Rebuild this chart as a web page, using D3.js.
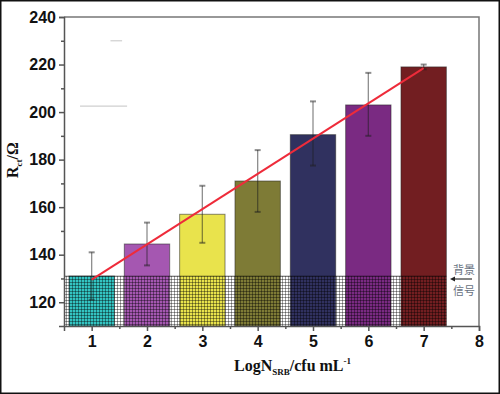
<!DOCTYPE html>
<html>
<head>
<meta charset="utf-8">
<script src="https://cdn.jsdelivr.net/npm/d3@7"></script>
<style>
  body { margin: 0; background: #fff; }
  svg { display: block; }
  .note { font-family: "Noto Sans CJK SC", "Noto Sans CJK JP", sans-serif; font-size: 11px; fill: #667080; }
</style>
</head>
<body>
<script>
// values
var levels = [1, 2, 3, 4, 5, 6, 7];
var rct = [131, 144.5, 157, 171, 190.5, 203, 219];
var errUp = [10, 9, 12, 13, 14, 13.5, 1];
var errDown = [10, 9, 12, 13, 13, 13, 1];
var barColors = ["#33c4c2", "#a557b1", "#e9e34c", "#7e7b36", "#30315f", "#7a2a82", "#721e21"];
var fitX = [1, 7];
var fitY = [129.5, 218.5];
var background = 131;
var xTicks = [1, 2, 3, 4, 5, 6, 7, 8];
var yTicks = [120, 140, 160, 180, 200, 220, 240];

var w = 500, h = 394;
var pLeft = 64, pRight = 479, pTop = 17, pBottom = 326;

var svg = d3.select("body").append("svg")
  .attr("width", w).attr("height", h);

svg.append("rect").attr("x", 0.75).attr("y", 0.75)
  .attr("width", w - 1.5).attr("height", h - 1.5)
  .attr("fill", "#fff").attr("stroke", "#111").attr("stroke-width", 1.5);

var x = d3.scaleLinear().domain([0.5, 8]).range([pLeft, pRight]);
var y = d3.scaleLinear().domain([110, 240]).range([pBottom, pTop]);
var bw = x(1.82) - x(1);

// grid pattern for the background signal zone
var defs = svg.append("defs");
var pat = defs.append("pattern").attr("id", "grid")
  .attr("patternUnits", "userSpaceOnUse").attr("width", 3).attr("height", 3);
pat.append("path").attr("d", "M0,0.5H3M0.5,0V3")
  .attr("stroke", "rgba(0,0,0,0.38)").attr("stroke-width", 1);

// faint stray marks from the original figure
svg.append("g").attr("stroke", "#cfcfcf").attr("stroke-width", 1.2)
  .selectAll("line").data([[1.34, 1.55, 230], [0.79, 1.64, 202.5]]).enter()
  .append("line")
  .attr("x1", function(d){ return x(d[0]); })
  .attr("x2", function(d){ return x(d[1]); })
  .attr("y1", function(d){ return y(d[2]); })
  .attr("y2", function(d){ return y(d[2]); });

// bars
svg.append("g").selectAll("rect").data(levels).enter()
  .append("rect")
  .attr("x", function(d){ return x(d) - bw / 2; })
  .attr("y", function(d, i){ return y(rct[i]); })
  .attr("width", bw)
  .attr("height", function(d, i){ return pBottom - y(rct[i]); })
  .attr("fill", function(d, i){ return barColors[i]; })
  .attr("stroke", "rgba(40,40,40,0.55)").attr("stroke-width", 1);

// hatched background band
svg.append("rect")
  .attr("x", pLeft).attr("y", y(background))
  .attr("width", x(7) + bw / 2 - pLeft)
  .attr("height", pBottom - y(background))
  .attr("fill", "url(#grid)");
svg.append("line")
  .attr("x1", pLeft).attr("x2", x(7) + bw / 2)
  .attr("y1", y(background)).attr("y2", y(background))
  .attr("stroke", "rgba(0,0,0,0.4)");

// error bars
var eb = svg.append("g").attr("stroke", "rgba(30,30,30,0.5)").attr("stroke-width", 1.3);
levels.forEach(function(d, i){
  var cx = x(d);
  eb.append("line").attr("x1", cx).attr("x2", cx)
    .attr("y1", y(rct[i] + errUp[i])).attr("y2", y(rct[i] - errDown[i]));
  [rct[i] + errUp[i], rct[i] - errDown[i]].forEach(function(v){
    eb.append("line").attr("x1", cx - 3).attr("x2", cx + 3)
      .attr("y1", y(v)).attr("y2", y(v)).attr("stroke-width", 2);
  });
});

// linear fit
svg.append("path")
  .datum(d3.zip(fitX, fitY))
  .attr("d", d3.line().x(function(d){ return x(d[0]); }).y(function(d){ return y(d[1]); }))
  .attr("stroke", "#ee2b3a").attr("stroke-width", 2).attr("fill", "none");

// frame top/right
svg.append("path")
  .attr("d", "M" + pLeft + "," + pTop + "H" + pRight + "V" + pBottom)
  .attr("fill", "none").attr("stroke", "#777").attr("stroke-width", 1.5);

// axes
svg.append("g").attr("transform", "translate(" + pLeft + ",0)")
  .call(d3.axisLeft(y).tickValues(yTicks).tickSize(5).tickPadding(3));
svg.append("g").attr("transform", "translate(" + pLeft + ",0)")
  .call(d3.axisLeft(y).tickValues(d3.range(130, 240, 20)).tickSize(3).tickFormat(""))
  .select(".domain").remove();
svg.append("g").attr("transform", "translate(0," + pBottom + ")")
  .call(d3.axisBottom(x).tickValues(xTicks).tickSize(5).tickPadding(5));
svg.append("g").attr("transform", "translate(0," + pBottom + ")")
  .call(d3.axisBottom(x).tickValues(d3.range(1.5, 8, 1)).tickSize(3).tickFormat(""))
  .select(".domain").remove();

svg.selectAll(".domain").attr("stroke", "#555").attr("stroke-width", 1.5);
svg.selectAll(".tick line").attr("stroke", "#555").attr("stroke-width", 1.5);
svg.selectAll(".tick text")
  .attr("font-family", "Liberation Sans, Arial, sans-serif")
  .attr("font-weight", "bold").attr("font-size", 16).attr("fill", "#111");

// axis titles
var xt = svg.append("text")
  .attr("x", 234).attr("y", 371)
  .attr("font-family", "Liberation Serif, Times New Roman, serif")
  .attr("font-weight", "bold").attr("font-size", 16).attr("fill", "#111");
xt.append("tspan").text("LogN");
xt.append("tspan").attr("font-size", 9).attr("dy", 4).text("SRB");
xt.append("tspan").attr("dy", -4).text("/cfu mL");
xt.append("tspan").attr("font-size", 9).attr("dy", -7).text("-1");

var yt = svg.append("text")
  .attr("transform", "translate(18,178) rotate(-90)")
  .attr("font-family", "Liberation Serif, Times New Roman, serif")
  .attr("font-weight", "bold").attr("font-size", 16).attr("fill", "#111");
yt.append("tspan").text("R");
yt.append("tspan").attr("font-size", 9).attr("dy", 4).text("ct");
yt.append("tspan").attr("dy", -4).text("/Ω");

// background signal note
svg.append("text").attr("class", "note").attr("x", 453).attr("y", 274).text("背景");
svg.append("text").attr("class", "note").attr("x", 453).attr("y", 295).text("信号");
svg.append("line").attr("x1", 472).attr("x2", 452).attr("y1", 279).attr("y2", 279)
  .attr("stroke", "#333").attr("stroke-width", 1.2);
svg.append("path").attr("d", "M450,279l5,-2.5v5z").attr("fill", "#222");
</script>
</body>
</html>
